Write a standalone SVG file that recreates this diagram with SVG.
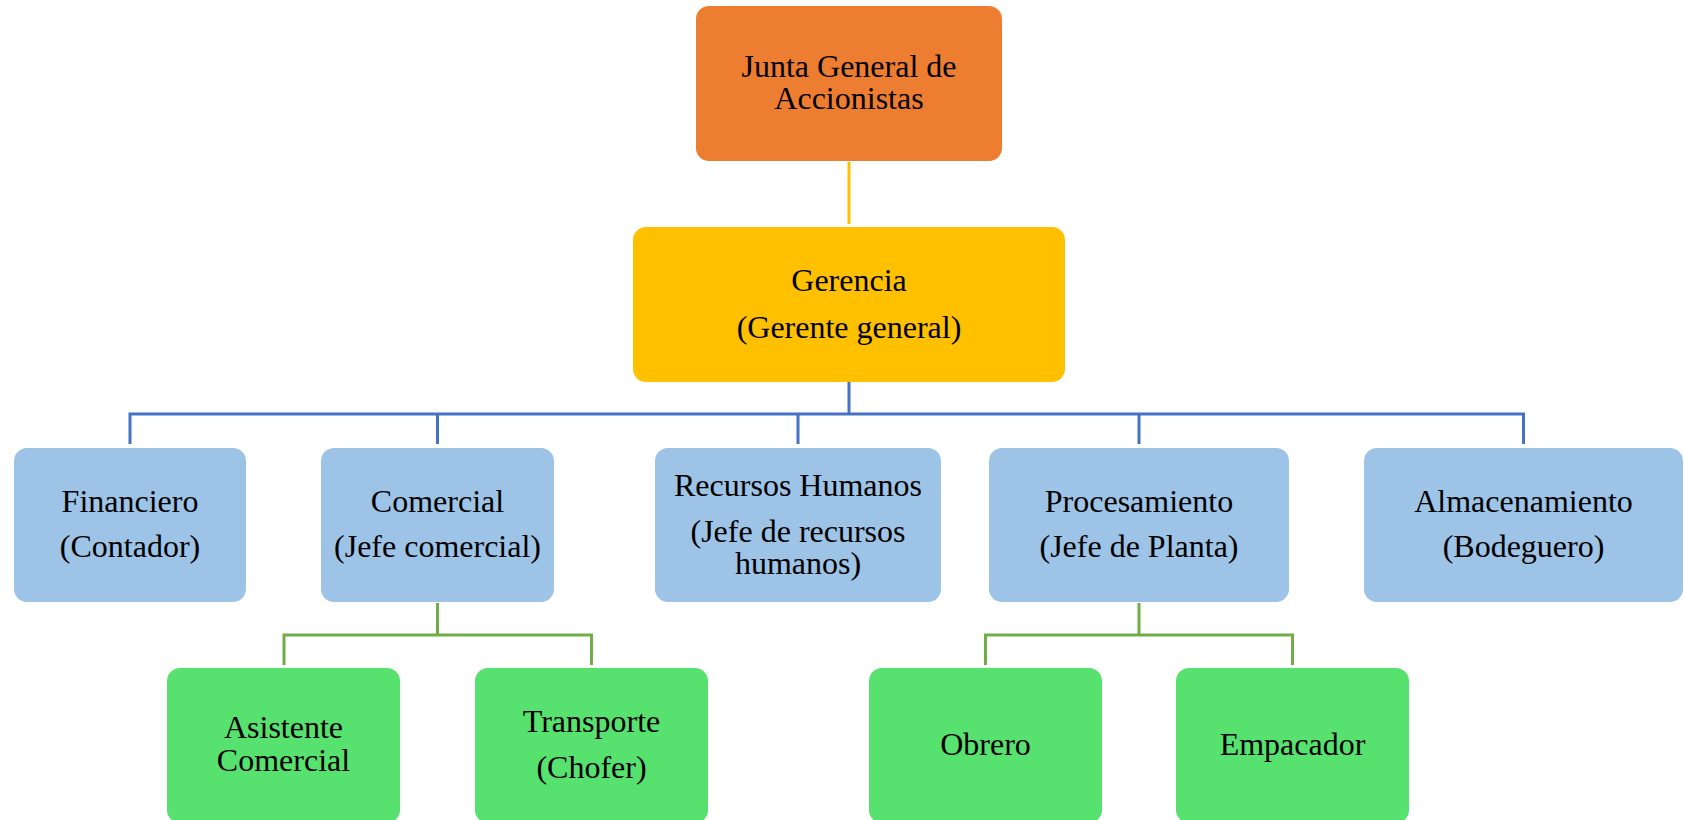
<svg xmlns="http://www.w3.org/2000/svg" width="1684" height="820" viewBox="0 0 1684 820">
<style>
text{font-family:"Liberation Serif","Times New Roman",serif;font-size:32px;fill:#000;text-anchor:middle}
.org{fill:#ED7D31}
.yel{fill:#FFC000}
.blu{fill:#9DC3E6}
.grn{fill:#57E16F}
.cy{stroke:#FFC000;stroke-width:3;fill:none}
.cb{stroke:#4472C4;stroke-width:3;fill:none}
.cg{stroke:#70AD47;stroke-width:3;fill:none}
</style>
<rect width="1684" height="820" fill="#fff"/>
<g id="connectors">
<path class="cy" d="M849 162V224"/>
<path class="cb" d="M849 382V414M130 444V414H1523.5V444M437.5 414V444M798 414V444M1139 414V444"/>
<path class="cg" d="M437.5 603V635M284 665V635H591.5V665"/>
<path class="cg" d="M1139 603V635M985.5 665V635H1292.5V665"/>
</g>
<g id="junta"><rect class="org" x="696" y="6" width="306" height="155" rx="13"/><text x="849" y="77">Junta General de</text><text x="849" y="109">Accionistas</text></g>
<g id="gerencia"><rect class="yel" x="633" y="227" width="432" height="155" rx="13"/><text x="849" y="291">Gerencia</text><text x="849" y="338">(Gerente general)</text></g>
<g id="financiero"><rect class="blu" x="14" y="448" width="232" height="154" rx="13"/><text x="130" y="512">Financiero</text><text x="130" y="557">(Contador)</text></g>
<g id="comercial"><rect class="blu" x="321" y="448" width="233" height="154" rx="13"/><text x="437.5" y="512">Comercial</text><text x="437.5" y="557">(Jefe comercial)</text></g>
<g id="rrhh"><rect class="blu" x="655" y="448" width="286" height="154" rx="13"/><text x="798" y="496">Recursos Humanos</text><text x="798" y="542">(Jefe de recursos</text><text x="798" y="574">humanos)</text></g>
<g id="procesamiento"><rect class="blu" x="989" y="448" width="300" height="154" rx="13"/><text x="1139" y="512">Procesamiento</text><text x="1139" y="557">(Jefe de Planta)</text></g>
<g id="almacenamiento"><rect class="blu" x="1364" y="448" width="319" height="154" rx="13"/><text x="1523.5" y="512">Almacenamiento</text><text x="1523.5" y="557">(Bodeguero)</text></g>
<g id="asistente"><rect class="grn" x="167" y="668" width="233" height="155" rx="13"/><text x="283.5" y="738">Asistente</text><text x="283.5" y="771">Comercial</text></g>
<g id="transporte"><rect class="grn" x="475" y="668" width="233" height="155" rx="13"/><text x="591.5" y="732">Transporte</text><text x="591.5" y="778">(Chofer)</text></g>
<g id="obrero"><rect class="grn" x="869" y="668" width="233" height="155" rx="13"/><text x="985.5" y="755">Obrero</text></g>
<g id="empacador"><rect class="grn" x="1176" y="668" width="233" height="155" rx="13"/><text x="1292.5" y="755">Empacador</text></g>
</svg>
